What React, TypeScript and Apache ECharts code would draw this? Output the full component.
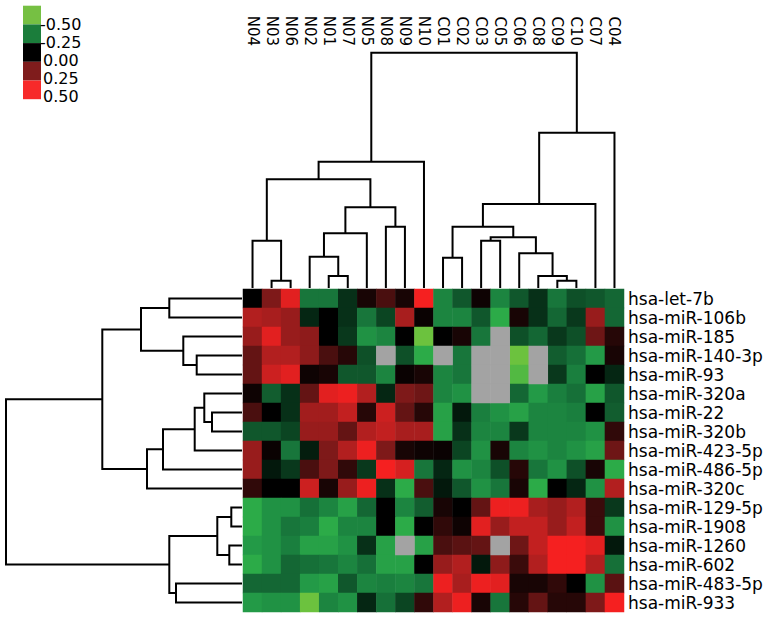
import React, { useEffect, useRef } from "react";
import * as echarts from "echarts";

const columns = ["N04","N03","N06","N02","N01","N07","N05","N08","N09","N10","C01","C02","C03","C05","C06","C08","C09","C10","C07","C04"];
const rowsLabels = ["hsa-let-7b","hsa-miR-106b","hsa-miR-185","hsa-miR-140-3p","hsa-miR-93","hsa-miR-320a","hsa-miR-22","hsa-miR-320b","hsa-miR-423-5p","hsa-miR-486-5p","hsa-miR-320c","hsa-miR-129-5p","hsa-miR-1908","hsa-miR-1260","hsa-miR-602","hsa-miR-483-5p","hsa-miR-933"];

const N = null;
const r00 = [0, 0.25, 0.45, -0.3, -0.3, -0.1, 0.05, 0.15, 0.05, 0.5, -0.35, -0.2, 0.03, -0.35, -0.2, -0.1, -0.3, -0.18, -0.2, -0.25];
const r01 = [0.35, 0.33, 0.3, -0.08, 0, -0.1, -0.3, -0.15, 0.33, 0.02, -0.35, -0.35, -0.2, -0.45, 0.05, -0.1, -0.25, -0.12, 0.3, -0.25];
const r02 = [0.3, 0.45, 0.3, 0.28, 0, -0.12, -0.38, -0.35, 0, -0.5, 0, 0.05, -0.3, N, -0.18, -0.25, -0.12, -0.18, 0.22, 0.08];
const r03 = [0.2, 0.35, 0.35, 0.28, 0.15, 0.08, -0.18, N, -0.18, -0.45, N, -0.3, N, N, -0.5, N, -0.22, -0.28, -0.4, 0.05];
const r04 = [0.2, 0.4, 0.45, 0.03, 0.05, -0.2, -0.2, -0.35, 0.02, 0.05, -0.35, -0.3, N, N, -0.48, N, -0.12, -0.33, 0, -0.08];
const r05 = [0.03, -0.22, -0.1, 0.2, 0.45, 0.48, 0.35, -0.08, 0.25, 0.22, -0.35, -0.38, N, N, -0.25, -0.4, -0.33, -0.28, -0.42, -0.2];
const r06 = [0.15, 0, -0.1, 0.32, 0.32, 0.38, 0.08, 0.4, 0.2, 0.08, -0.42, -0.05, -0.33, -0.38, -0.42, -0.35, -0.35, -0.33, 0, -0.22];
const r07 = [-0.2, -0.2, -0.15, 0.3, 0.3, 0.2, 0.35, 0.38, 0.33, 0.33, -0.42, -0.1, -0.35, -0.35, -0.12, -0.35, -0.35, -0.35, -0.38, 0.1];
const r08 = [0.3, 0.02, -0.3, -0.06, 0.25, 0.35, 0.48, 0.25, 0.05, 0.03, 0.02, -0.15, -0.38, 0.05, -0.35, -0.38, -0.35, -0.38, -0.42, 0.22];
const r09 = [0.3, -0.05, -0.12, 0.15, 0.25, 0.1, -0.12, 0.5, 0.42, -0.3, -0.08, -0.38, -0.35, -0.18, 0.08, -0.3, -0.38, -0.18, 0.05, -0.45];
const r10 = [0.1, 0, 0, 0.4, 0.05, 0.3, 0.48, -0.1, -0.45, 0.15, -0.05, -0.2, -0.38, -0.3, 0.05, -0.45, 0, -0.08, -0.38, 0.35];
const r11 = [-0.45, -0.38, -0.38, -0.28, -0.35, -0.42, -0.25, 0, -0.35, -0.22, 0.05, 0, 0.2, 0.48, 0.48, 0.33, 0.3, 0.35, 0.12, -0.12];
const r12 = [-0.45, -0.38, -0.3, -0.33, -0.45, -0.35, -0.35, 0, -0.45, 0, 0.1, 0.03, 0.45, 0.3, 0.38, 0.38, 0.3, 0.38, 0.12, -0.38];
const r13 = [-0.4, -0.38, -0.33, -0.42, -0.42, -0.38, -0.1, -0.42, N, -0.42, 0.15, 0.18, 0.2, N, 0.22, 0.38, 0.5, 0.5, 0.45, -0.05];
const r14 = [-0.45, -0.38, -0.25, -0.28, -0.3, -0.35, -0.28, -0.42, -0.42, 0, 0.3, 0.35, -0.05, 0.28, 0.12, 0.35, 0.5, 0.5, 0.35, -0.28];
const r15 = [-0.25, -0.25, -0.25, -0.4, -0.42, -0.2, -0.35, -0.33, -0.35, -0.3, 0.48, 0.33, 0.48, 0.45, 0.05, 0.05, 0.1, 0, -0.38, 0.18];
const r16 = [-0.4, -0.38, -0.38, -0.5, -0.35, -0.38, -0.08, -0.28, -0.15, 0.1, 0.35, 0.48, 0.05, -0.3, 0.08, 0.2, 0.08, 0.08, 0.25, 0.5];
const matrix = [r00, r01, r02, r03, r04, r05, r06, r07, r08, r09, r10, r11, r12, r13, r14, r15, r16];

// linkage: [a, b, height]; ids >= n refer to earlier merges
const colLinkage = [
  [1, 2, 0.073], [0, 20, 0.473], [4, 5, 0.12], [3, 22, 0.313], [23, 6, 0.547],
  [7, 8, 0.613], [24, 25, 0.807], [21, 26, 1.087], [27, 9, 1.263],
  [10, 11, 0.303], [12, 13, 0.473], [16, 17, 0.073], [15, 31, 0.12], [14, 32, 0.347],
  [30, 33, 0.507], [29, 34, 0.613], [35, 18, 0.84], [36, 19, 1.553], [28, 37, 2.353],
];
const rowLinkage = [
  [0, 1, 0.727], [3, 4, 0.453], [2, 18, 0.587], [17, 19, 1.01],
  [6, 7, 0.3], [5, 21, 0.377], [22, 8, 0.473], [23, 9, 0.79], [24, 10, 0.95],
  [20, 25, 1.397], [11, 12, 0.107], [13, 14, 0.127], [27, 28, 0.247],
  [15, 16, 0.66], [29, 30, 0.727], [26, 31, 2.36],
];

const legendValues = ["-0.50", "-0.25", "0.00", "0.25", "0.50"];
const legendColors = ["#76c043", "#1b7d3b", "#000000", "#7f1c1c", "#f72a2a"];
// colour stops every 0.05 from -0.5 to 0.5
const heatColors = [
  "#6cc23e", "#2cab48", "#239a47", "#1c8540", "#18763b", "#146734", "#10572c", "#0b4522", "#073018", "#03180c",
  "#000000",
  "#180505", "#300909", "#4a0f0f", "#641414", "#7e1919", "#981c1c", "#b21f1f", "#cc2020", "#e22020", "#f52020",
];
const missingColor = "#a3a3a3";

function dendroSegments(linkage: number[][], n: number, rowMode: boolean) {
  const pos: number[] = [];
  const hts: number[] = [];
  for (let i = 0; i < n; i++) { pos[i] = i; hts[i] = 0; }
  const segs: any[] = [];
  linkage.forEach((m, k) => {
    const [a, b, h] = m;
    const pa = pos[a], pb = pos[b], ha = hts[a], hb = hts[b];
    const pts = [[pa, ha], [pa, h], [pb, h], [pb, hb]];
    segs.push({ coords: rowMode ? pts.map(([p, v]) => [v, p]) : pts });
    pos[n + k] = (pa + pb) / 2;
    hts[n + k] = h;
  });
  return segs;
}

export default function App() {
  const ref = useRef<HTMLDivElement>(null);
  useEffect(() => {
    if (!ref.current) return;
    const chart = echarts.init(ref.current, null, { renderer: "svg" });
    const heatData: any[] = [];
    const missData: any[] = [];
    matrix.forEach((row, j) => row.forEach((v, i) => {
      if (v === null) missData.push([i, j, 0]);
      else heatData.push([i, j, v]);
    }));
    const graphic: any[] = [];
    legendColors.forEach((c, i) => {
      graphic.push({ type: "rect", left: 23, top: 5.7 + i * 18.7, shape: { width: 18, height: 18.7 }, style: { fill: c } });
    });
    legendValues.forEach((t, i) => {
      graphic.push({ type: "text", x: t.startsWith("-") ? 40 : 43, y: 24 + i * 18.2, style: { text: t, fill: "#000", font: "16px 'DejaVu Sans'", textVerticalAlign: "middle" } });
    });
    const hidden = { show: false };
    chart.setOption({
      animation: false,
      graphic,
      grid: [
        { left: 243, top: 289, width: 381, height: 323 },
        { left: 243, top: 48, width: 381, height: 240 },
        { left: 2, top: 289, width: 240, height: 323 },
      ],
      xAxis: [
        {
          type: "category", data: columns, position: "top", gridIndex: 0,
          axisLine: hidden, axisTick: hidden, splitLine: hidden,
          axisLabel: { interval: 0, rotate: 90, margin: 243, fontSize: 15, fontFamily: "DejaVu Sans", color: "#000" },
        },
        { type: "value", gridIndex: 1, min: -0.5, max: 19.5, show: false },
        { type: "value", gridIndex: 2, min: 0, max: 2.4, inverse: true, show: false },
      ],
      yAxis: [
        {
          type: "category", data: rowsLabels, position: "right", inverse: true, gridIndex: 0,
          axisLine: hidden, axisTick: hidden, splitLine: hidden,
          axisLabel: { interval: 0, margin: 4, fontSize: 17, fontFamily: "DejaVu Sans", color: "#000" },
        },
        { type: "value", gridIndex: 1, min: 0, max: 2.4, show: false },
        { type: "value", gridIndex: 2, min: -0.5, max: 16.5, inverse: true, show: false },
      ],
      visualMap: [
        { type: "continuous", show: false, seriesIndex: 0, min: -0.5, max: 0.5, inRange: { color: heatColors } },
        { type: "continuous", show: false, seriesIndex: 1, min: 0, max: 1, inRange: { color: [missingColor, missingColor] } },
      ],
      series: [
        { type: "heatmap", xAxisIndex: 0, yAxisIndex: 0, data: heatData, silent: true },
        { type: "heatmap", xAxisIndex: 0, yAxisIndex: 0, data: missData, silent: true },
        {
          type: "lines", coordinateSystem: "cartesian2d", xAxisIndex: 1, yAxisIndex: 1, polyline: true, silent: true,
          lineStyle: { color: "#000", width: 2, opacity: 1 }, data: dendroSegments(colLinkage, columns.length, false),
        },
        {
          type: "lines", coordinateSystem: "cartesian2d", xAxisIndex: 2, yAxisIndex: 2, polyline: true, silent: true,
          lineStyle: { color: "#000", width: 2, opacity: 1 }, data: dendroSegments(rowLinkage, rowsLabels.length, true),
        },
      ],
    });
    return () => chart.dispose();
  }, []);
  return <div ref={ref} style={{ position: "fixed", left: 0, top: 0, width: 776, height: 619, background: "#fff" }} />;
}
